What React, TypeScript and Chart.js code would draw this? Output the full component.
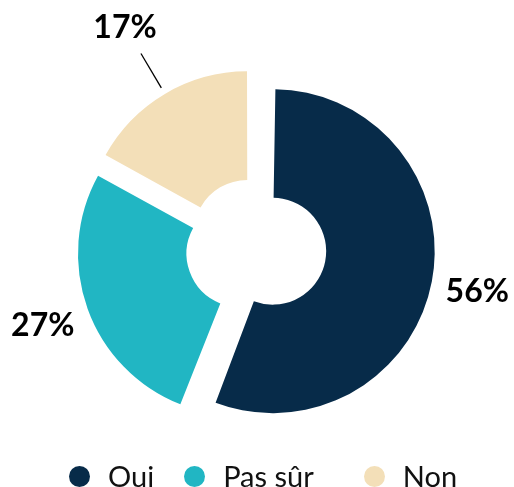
import React, { useEffect, useRef } from 'react';
import { Chart, registerables } from 'chart.js';

Chart.register(...registerables);

const categories = ['Oui', 'Pas sûr', 'Non'];
const shares = [56, 27, 17];
const sliceColors = ['#072b49', '#21b6c3', '#f3dfb8'];

const FONT = 'Lato, "Open Sans", sans-serif';
const OFFSET = 68; // Chart.js arc offset (translation = offset / 4 px)
const LEADER_BELOW = 20; // slices smaller than this get a leader line
const LEGEND_GAPS = [0, 30, 50]; // spacing before each legend item (style)

// radius growth Chart.js applies to an offset arc when drawing it
const radiusGrowth = (arc: any) =>
  (OFFSET / 4) * (1 - Math.sin(Math.min(Math.PI, arc.circumference || 0)));

// Chart.js enlarges wide arcs by their offset; keep all slices on one radius.
const equalizeRadius = {
  id: 'equalizeRadius',
  afterDatasetsUpdate(chart: any) {
    const meta = chart.getDatasetMeta(0);
    meta.data.forEach((arc: any) => {
      const d = radiusGrowth(arc);
      arc.outerRadius = arc.outerRadius - d;
      arc.innerRadius = arc.innerRadius - d;
    });
  },
};

const percentLabels = {
  id: 'percentLabels',
  afterDatasetsDraw(chart: any) {
    const ctx = chart.ctx as CanvasRenderingContext2D;
    const meta = chart.getDatasetMeta(0);
    ctx.save();
    ctx.font = `700 32px ${FONT}`;
    ctx.fillStyle = '#000';
    ctx.strokeStyle = '#000';
    ctx.textAlign = 'center';
    ctx.textBaseline = 'alphabetic';
    meta.data.forEach((arc: any, i: number) => {
      const mid = (arc.startAngle + arc.endAngle) / 2;
      const ux = Math.cos(mid);
      const uy = Math.sin(mid);
      const base = arc.outerRadius + radiusGrowth(arc) + OFFSET / 4;
      const text = `${shares[i]}%`;
      const hw = ctx.measureText(text).width / 2;
      const hh = 11.5;
      const edge = Math.min(
        hw / Math.max(Math.abs(ux), 1e-6),
        hh / Math.max(Math.abs(uy), 1e-6)
      );
      let dist = base + 14 + edge;
      if (shares[i] < LEADER_BELOW) {
        ctx.beginPath();
        ctx.moveTo(arc.x + ux * (base + 7), arc.y + uy * (base + 7));
        ctx.lineTo(arc.x + ux * (base + 47), arc.y + uy * (base + 47));
        ctx.lineWidth = 1.3;
        ctx.stroke();
        dist = base + 65 + edge;
      }
      const cx = arc.x + ux * dist;
      const cy = arc.y + uy * dist;
      ctx.fillText(text, cx, cy + hh);
    });
    ctx.restore();
  },
};

export default function App() {
  const canvasRef = useRef<HTMLCanvasElement | null>(null);

  useEffect(() => {
    if (!canvasRef.current) return;
    const chart = new Chart(canvasRef.current, {
      type: 'doughnut',
      data: {
        labels: categories,
        datasets: [
          {
            data: shares,
            backgroundColor: sliceColors,
            borderWidth: 0,
            offset: OFFSET,
            hoverOffset: 0,
          },
        ],
      },
      options: {
        responsive: false,
        animation: false,
        devicePixelRatio: 1,
        cutout: '33%',
        layout: { padding: { top: 52, bottom: 43, left: 0, right: 2 } },
        plugins: {
          legend: { display: false },
          tooltip: { enabled: false },
        },
        events: [],
      },
      plugins: [equalizeRadius, percentLabels],
    });
    return () => chart.destroy();
  }, []);

  return (
    <div
      style={{
        position: 'fixed',
        left: 0,
        top: 0,
        width: 514,
        height: 487,
        background: '#fff',
        overflow: 'hidden',
      }}
    >
      <canvas ref={canvasRef} width={514} height={487} style={{ display: 'block' }} />
      <div
        style={{
          position: 'absolute',
          left: 69,
          top: 462,
          width: 445,
          height: 28,
          display: 'flex',
          justifyContent: 'flex-start',
          alignItems: 'center',
          fontFamily: FONT,
          fontSize: 29,
          lineHeight: '28px',
          color: '#111',
          whiteSpace: 'nowrap',
        }}
      >
        {categories.map((c, i) => (
          <div
            key={c}
            style={{ display: 'flex', alignItems: 'center', marginLeft: LEGEND_GAPS[i] }}
          >
            <span
              style={{
                display: 'inline-block',
                width: 21,
                height: 21,
                borderRadius: '50%',
                background: sliceColors[i],
                marginRight: 18,
              }}
            />
            <span>{c}</span>
          </div>
        ))}
      </div>
    </div>
  );
}
